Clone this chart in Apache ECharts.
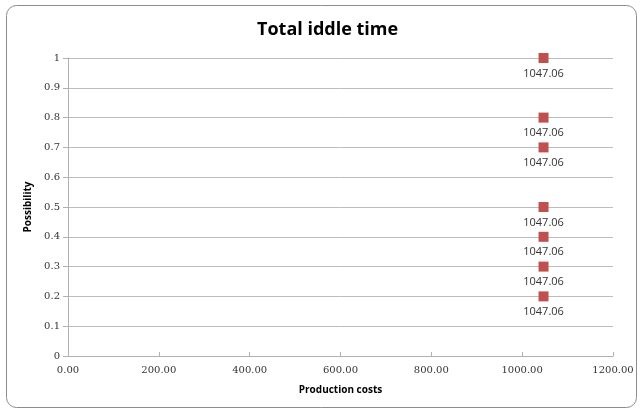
<!DOCTYPE html>
<html><head><meta charset="utf-8">
<script src="https://cdn.jsdelivr.net/npm/echarts@6/dist/echarts.min.js"></script>
<style>html,body{margin:0;padding:0;background:#fff}#c{width:641px;height:412px}</style>
</head><body><div id="c"></div>
<script>
const title = "Total iddle time";
const xName = "Production costs";
const yName = "Possibility";
const xValues = [1047.06, 1047.06, 1047.06, 1047.06, 1047.06, 1047.06, 1047.06];
const yValues = [1, 0.8, 0.7, 0.5, 0.4, 0.3, 0.2];

const chart = echarts.init(document.getElementById('c'));
chart.setOption({
  animation: false,
  backgroundColor: '#fff',
  title: { text: title, left: 252, top: 16,
    textStyle: { fontFamily: 'Open Sans', fontWeight: 'bold', fontSize: 18, color: '#000' } },
  graphic: [{ type: 'rect', shape: { x: 6.5, y: 5.5, width: 630, height: 402, r: 10 },
    style: { fill: 'none', stroke: '#8c8c8c', lineWidth: 1 }, z: -1 }],
  grid: { left: 68, right: 28, top: 58, bottom: 56 },
  xAxis: { type: 'value', min: 0, max: 1200, interval: 200,
    name: xName, nameLocation: 'middle', nameGap: 29,
    nameTextStyle: { fontFamily: 'Open Sans', fontWeight: 'bold', fontSize: 10, color: '#000' },
    axisLine: { show: true, lineStyle: { color: '#b0b0b0' } },
    axisTick: { show: true, inside: true, length: 4, lineStyle: { color: '#b0b0b0' } },
    axisLabel: { formatter: v => v.toFixed(2), fontFamily: 'DejaVu Serif', fontSize: 10, color: '#333', margin: 9 },
    splitLine: { show: false } },
  yAxis: { type: 'value', min: 0, max: 1, interval: 0.1,
    name: yName, nameLocation: 'middle', nameGap: 33,
    nameTextStyle: { fontFamily: 'Open Sans', fontWeight: 'bold', fontSize: 10, color: '#000' },
    axisLine: { show: true, lineStyle: { color: '#b0b0b0' } },
    axisTick: { show: true, length: 5, lineStyle: { color: '#b0b0b0' } },
    axisLabel: { formatter: v => String(+v.toFixed(1)), fontFamily: 'DejaVu Serif', fontSize: 10, color: '#333', margin: 8 },
    splitLine: { show: true, lineStyle: { color: '#bdbdbd' } } },
  series: [{ type: 'scatter', symbol: 'rect', symbolSize: 10,
    data: xValues.map((x, i) => [x, yValues[i]]),
    itemStyle: { color: '#C0504D', opacity: 1 },
    label: { show: true, position: 'bottom', distance: 5, formatter: p => p.value[0].toFixed(2),
      fontFamily: 'Open Sans', fontSize: 11, color: '#333' } }]
});
</script></body></html>
